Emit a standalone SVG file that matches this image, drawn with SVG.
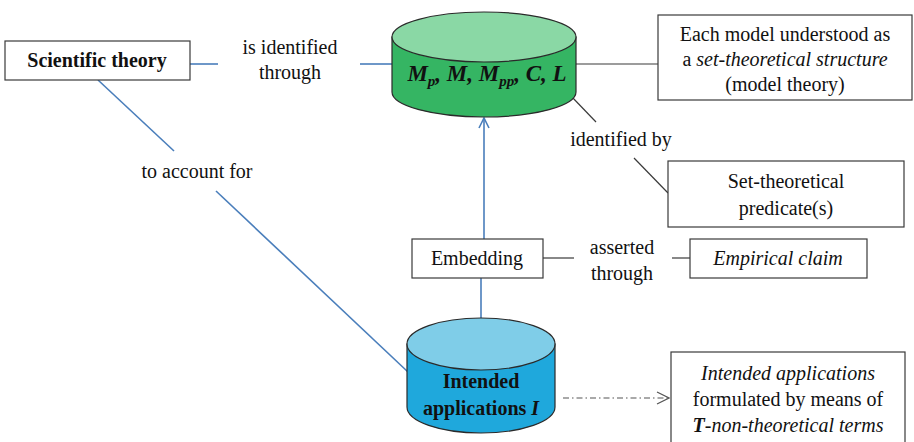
<svg xmlns="http://www.w3.org/2000/svg" width="914" height="442" viewBox="0 0 914 442" font-family="'Liberation Serif', 'Times New Roman', 'DejaVu Serif', serif">
  <style>
    .box { fill: #ffffff; stroke: #3a3a3a; stroke-width: 1.2; }
    .txt { font-family: 'Liberation Serif', 'Times New Roman', 'DejaVu Serif', serif; font-size: 20px; fill: #111; }
    .bold { font-weight: bold; }
    .it { font-style: italic; }
    .blue { stroke: #4a7ebb; stroke-width: 1.6; fill: none; }
    .dark { stroke: #3a3a3a; stroke-width: 1.2; fill: none; }
    .cyl-edge { stroke: #2a2a2a; stroke-width: 1.2; }
  </style>
  <defs>
    <marker id="openBlue" viewBox="0 0 12 12" refX="11" refY="6" markerWidth="12" markerHeight="12" markerUnits="userSpaceOnUse" orient="auto">
      <path d="M1,1 L11,6 L1,11" fill="none" stroke="#4a7ebb" stroke-width="1.6"/>
    </marker>
    <marker id="openGray" viewBox="0 0 14 14" refX="13" refY="7" markerWidth="14" markerHeight="14" markerUnits="userSpaceOnUse" orient="auto">
      <path d="M1,1 L13,7 L1,13" fill="none" stroke="#555" stroke-width="1.2"/>
    </marker>
  </defs>

  <rect width="914" height="442" fill="#ffffff"/>

  <!-- connectors and their labels -->
  <g id="connectors">
    <line class="blue" x1="190" y1="64" x2="218" y2="64"/>
    <line class="blue" x1="360" y1="64" x2="392" y2="64"/>
    <line class="dark" x1="576" y1="64" x2="658" y2="64"/>
    <line class="dark" x1="571" y1="96" x2="596" y2="122"/>
    <line class="dark" x1="634" y1="158" x2="668" y2="193"/>
    <line class="blue" x1="98" y1="80" x2="174" y2="151"/>
    <line class="blue" x1="216" y1="191" x2="408" y2="372"/>
    <line class="blue" x1="484" y1="239" x2="484" y2="118" marker-end="url(#openBlue)"/>
    <line class="blue" x1="481" y1="278" x2="481" y2="318"/>
    <line class="dark" x1="543" y1="258" x2="574" y2="258" stroke-width="1.6"/>
    <line class="dark" x1="672" y1="258" x2="690" y2="258" stroke-width="1.6"/>
    <line x1="563" y1="398" x2="669" y2="398" stroke="#555" stroke-width="1.2" stroke-dasharray="6,3,1.5,3" marker-end="url(#openGray)"/>
    <text class="txt" x="290" y="54" text-anchor="middle">is identified</text>
    <text class="txt" x="290" y="79" text-anchor="middle">through</text>
    <text class="txt" x="621" y="146" text-anchor="middle">identified by</text>
    <text class="txt" x="197" y="178" text-anchor="middle">to account for</text>
    <text class="txt" x="622" y="254" text-anchor="middle">asserted</text>
    <text class="txt" x="622" y="280" text-anchor="middle">through</text>
  </g>

  <g id="scientific-theory">
    <rect class="box" x="5" y="41" width="185" height="39"/>
    <text class="txt bold" x="97" y="67" text-anchor="middle">Scientific theory</text>
  </g>

  <g id="models">
    <path d="M392,37 L392,92 A92,25 0 0 0 576,92 L576,37 Z" fill="#35b563" class="cyl-edge"/>
    <ellipse cx="484" cy="37" rx="92" ry="25" fill="#8ad8a5" class="cyl-edge"/>
    <text class="txt bold it" x="487" y="81" text-anchor="middle" style="font-size:23px"><tspan>M</tspan><tspan style="font-size:15px" dy="5">p</tspan><tspan dy="-5">, M, M</tspan><tspan style="font-size:15px" dy="5">pp</tspan><tspan dy="-5">, C, L</tspan></text>
  </g>

  <g id="model-theory">
    <rect class="box" x="658" y="15" width="254" height="85"/>
    <text class="txt" x="785" y="41" text-anchor="middle">Each model understood as</text>
    <text class="txt" x="785" y="66" text-anchor="middle">a <tspan class="it">set-theoretical structure</tspan></text>
    <text class="txt" x="785" y="91" text-anchor="middle">(model theory)</text>
  </g>

  <g id="predicate">
    <rect class="box" x="668" y="161" width="236" height="66"/>
    <text class="txt" x="786" y="188" text-anchor="middle">Set-theoretical</text>
    <text class="txt" x="786" y="215" text-anchor="middle">predicate(s)</text>
  </g>

  <g id="embedding">
    <rect class="box" x="412" y="239" width="131" height="39"/>
    <text class="txt" x="477" y="265" text-anchor="middle">Embedding</text>
  </g>

  <g id="empirical-claim">
    <rect class="box" x="690" y="239" width="177" height="39"/>
    <text class="txt it" x="778" y="265" text-anchor="middle">Empirical claim</text>
  </g>

  <g id="intended-applications">
    <path d="M407,344 L407,407 A74,26 0 0 0 555,407 L555,344 Z" fill="#1fa8dc" class="cyl-edge"/>
    <ellipse cx="481" cy="344" rx="74" ry="26" fill="#7fcde8" class="cyl-edge"/>
    <text class="txt bold" x="481" y="388" text-anchor="middle">Intended</text>
    <text class="txt bold" x="481" y="415" text-anchor="middle">applications <tspan class="it">I</tspan></text>
  </g>

  <g id="non-theoretical">
    <rect class="box" x="671" y="352" width="234" height="95"/>
    <text class="txt it" x="788" y="380" text-anchor="middle">Intended applications</text>
    <text class="txt" x="788" y="406" text-anchor="middle">formulated by means of</text>
    <text class="txt it" x="788" y="432" text-anchor="middle"><tspan class="bold">T</tspan>-non-theoretical terms</text>
  </g>
</svg>
